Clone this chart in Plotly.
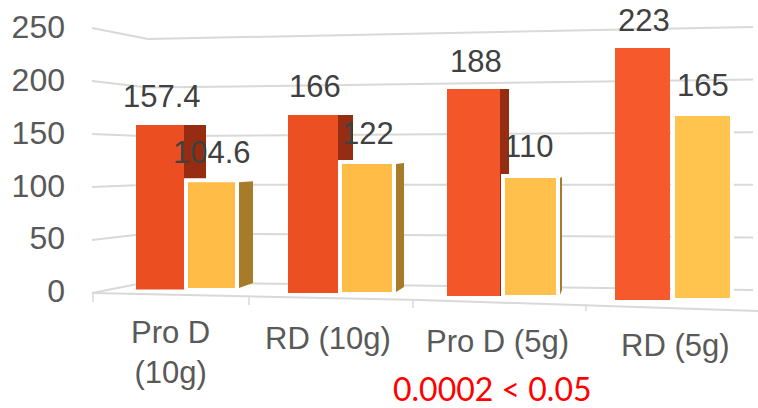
import plotly.graph_objects as go

# ---- data ----
categories = ["Pro D<br>(10g)", "RD (10g)", "Pro D (5g)", "RD (5g)"]
series_red = [157.4, 166, 188, 223]
series_yellow = [104.6, 122, 110, 165]
y_ticks = [0, 50, 100, 150, 200, 250]
note = "0.0002 < 0.05"

# ---- fake-3D layout (pixels of the 758x408 frame) ----
W, H = 758, 408
LEFT = 66
PX_PER_UNIT = 1.056
ZERO_PX = 291
red_x = [(136, 184), (288, 338), (447, 500), (615, 670)]
yel_x = [(186, 237), (340, 394), (503, 558), (673, 732)]
red_side_x = [(184, 206), (338, 353), (500, 509), None]
yel_side_x = [(239, 253), (396, 404), (560, 562), None]
red_floor = [289.5, 293, 296, 300]
yel_floor = [290, 294, 297, 300]
red_persp = [1.045, 1.072, 1.101, 1.130]
yel_persp = [1.05, 1.082, 1.10, 1.127]
red_colors = ["#EB4E20", "#EC5022", "#F35629", "#F6592C"]
yel_colors = ["#FFBC47", "#FFBD48", "#FFC14B", "#FFC44E"]
red_lbl = [(162, 96), (315, 86), (476, 61), (644, 20)]
yel_lbl = [(212, 152), (368, 133), (528, 146), (703, 85)]
cat_lbl = [(170, 352), (328, 338), (497, 341), (675, 345)]


def yv(px):
    """pixel row -> value on the y axis"""
    return (ZERO_PX - px) / PX_PER_UNIT


fig = go.Figure()

# red side faces (behind the yellow bars)
rs = [(i, s) for i, s in enumerate(red_side_x) if s is not None]
fig.add_trace(go.Bar(
    x=[(s[0] + s[1]) / 2 for _, s in rs],
    width=[s[1] - s[0] for _, s in rs],
    y=[series_red[i] * red_persp[i] / PX_PER_UNIT for i, _ in rs],
    base=[yv(red_floor[i]) for i, _ in rs],
    marker=dict(color="#962D12", line=dict(width=0)),
    showlegend=False, hoverinfo="skip"))

# front faces
fig.add_trace(go.Bar(
    x=[(a + b) / 2 for a, b in red_x],
    width=[b - a for a, b in red_x],
    y=[v * p / PX_PER_UNIT for v, p in zip(series_red, red_persp)],
    base=[yv(f) for f in red_floor],
    marker=dict(color=red_colors, line=dict(width=0)),
    showlegend=False, hoverinfo="skip"))
fig.add_trace(go.Bar(
    x=[(a + b) / 2 for a, b in yel_x],
    width=[b - a for a, b in yel_x],
    y=[v * p / PX_PER_UNIT for v, p in zip(series_yellow, yel_persp)],
    base=[yv(f) for f in yel_floor],
    marker=dict(color=yel_colors, line=dict(width=4, color="white")),
    showlegend=False, hoverinfo="skip"))

# yellow side faces
for i, s in enumerate(yel_side_x):
    if s is None:
        continue
    top = yel_floor[i] - series_yellow[i] * yel_persp[i] + 2
    bottom = yel_floor[i] - 2
    fig.add_trace(go.Scatter(
        x=[s[0], s[1], s[1], s[0], s[0]],
        y=[yv(top), yv(top - 1), yv(bottom - 5), yv(bottom), yv(top)],
        mode="lines", fill="toself", fillcolor="#A67C2A", line=dict(width=0),
        hoverinfo="skip", showlegend=False))

# perspective gridlines and floor
GRID = "#D9D9D9"
shapes = []
for t in y_ticks:
    pts = [(92, ZERO_PX + 2 - 1.06 * t),
           (148, 282 - 0.972 * t),
           (753, 290 - 1.052 * t)]
    for (x0, p0), (x1, p1) in zip(pts, pts[1:]):
        shapes.append(dict(type="line", xref="x", yref="y", layer="below",
                           x0=x0, x1=x1, y0=yv(p0), y1=yv(p1),
                           line=dict(color=GRID, width=2)))
floor_pts = [(93, 293), (420, 300), (758, 311)]
for (x0, p0), (x1, p1) in zip(floor_pts, floor_pts[1:]):
    shapes.append(dict(type="line", xref="x", yref="y", layer="below",
                       x0=x0, x1=x1, y0=yv(p0), y1=yv(p1),
                       line=dict(color=GRID, width=2)))
for x, p0, p1 in [(93, 293, 302), (249, 297, 305), (413, 300, 308), (586, 304, 311)]:
    shapes.append(dict(type="line", xref="x", yref="y", layer="below",
                       x0=x, x1=x, y0=yv(p0), y1=yv(p1),
                       line=dict(color=GRID, width=1.5)))

# text
ann = []
for vals, pos in [(series_red, red_lbl), (series_yellow, yel_lbl)]:
    for v, (x, p) in zip(vals, pos):
        ann.append(dict(x=x, y=yv(p), xref="x", yref="y", text=str(v), showarrow=False,
                        font=dict(family="Liberation Sans", size=31, color="#404040")))
for c, (x, p) in zip(categories, cat_lbl):
    ann.append(dict(x=x, y=yv(p), xref="x", yref="y", text=c, showarrow=False,
                    font=dict(family="Liberation Sans", size=31, color="#595959")))
ann.append(dict(x=492, y=yv(388), xref="x", yref="y", text=note, showarrow=False,
                font=dict(family="Lato", size=32, color="#FF0000")))

fig.update_layout(
    width=W, height=H, autosize=False,
    margin=dict(l=LEFT, r=0, t=0, b=0),
    paper_bgcolor="white", plot_bgcolor="rgba(0,0,0,0)",
    barmode="overlay", showlegend=False,
    shapes=shapes, annotations=ann,
    xaxis=dict(range=[LEFT, W], visible=False, fixedrange=True),
    yaxis=dict(range=[yv(H), yv(0)], tickvals=y_ticks, showgrid=False,
               zeroline=False, showline=False, ticks="",
               tickfont=dict(family="Liberation Sans", size=32, color="#595959")),
)
fig.write_html("out.html", config=dict(displayModeBar=False),
               post_script="document.body.style.margin='0';document.body.style.overflow='hidden';")
